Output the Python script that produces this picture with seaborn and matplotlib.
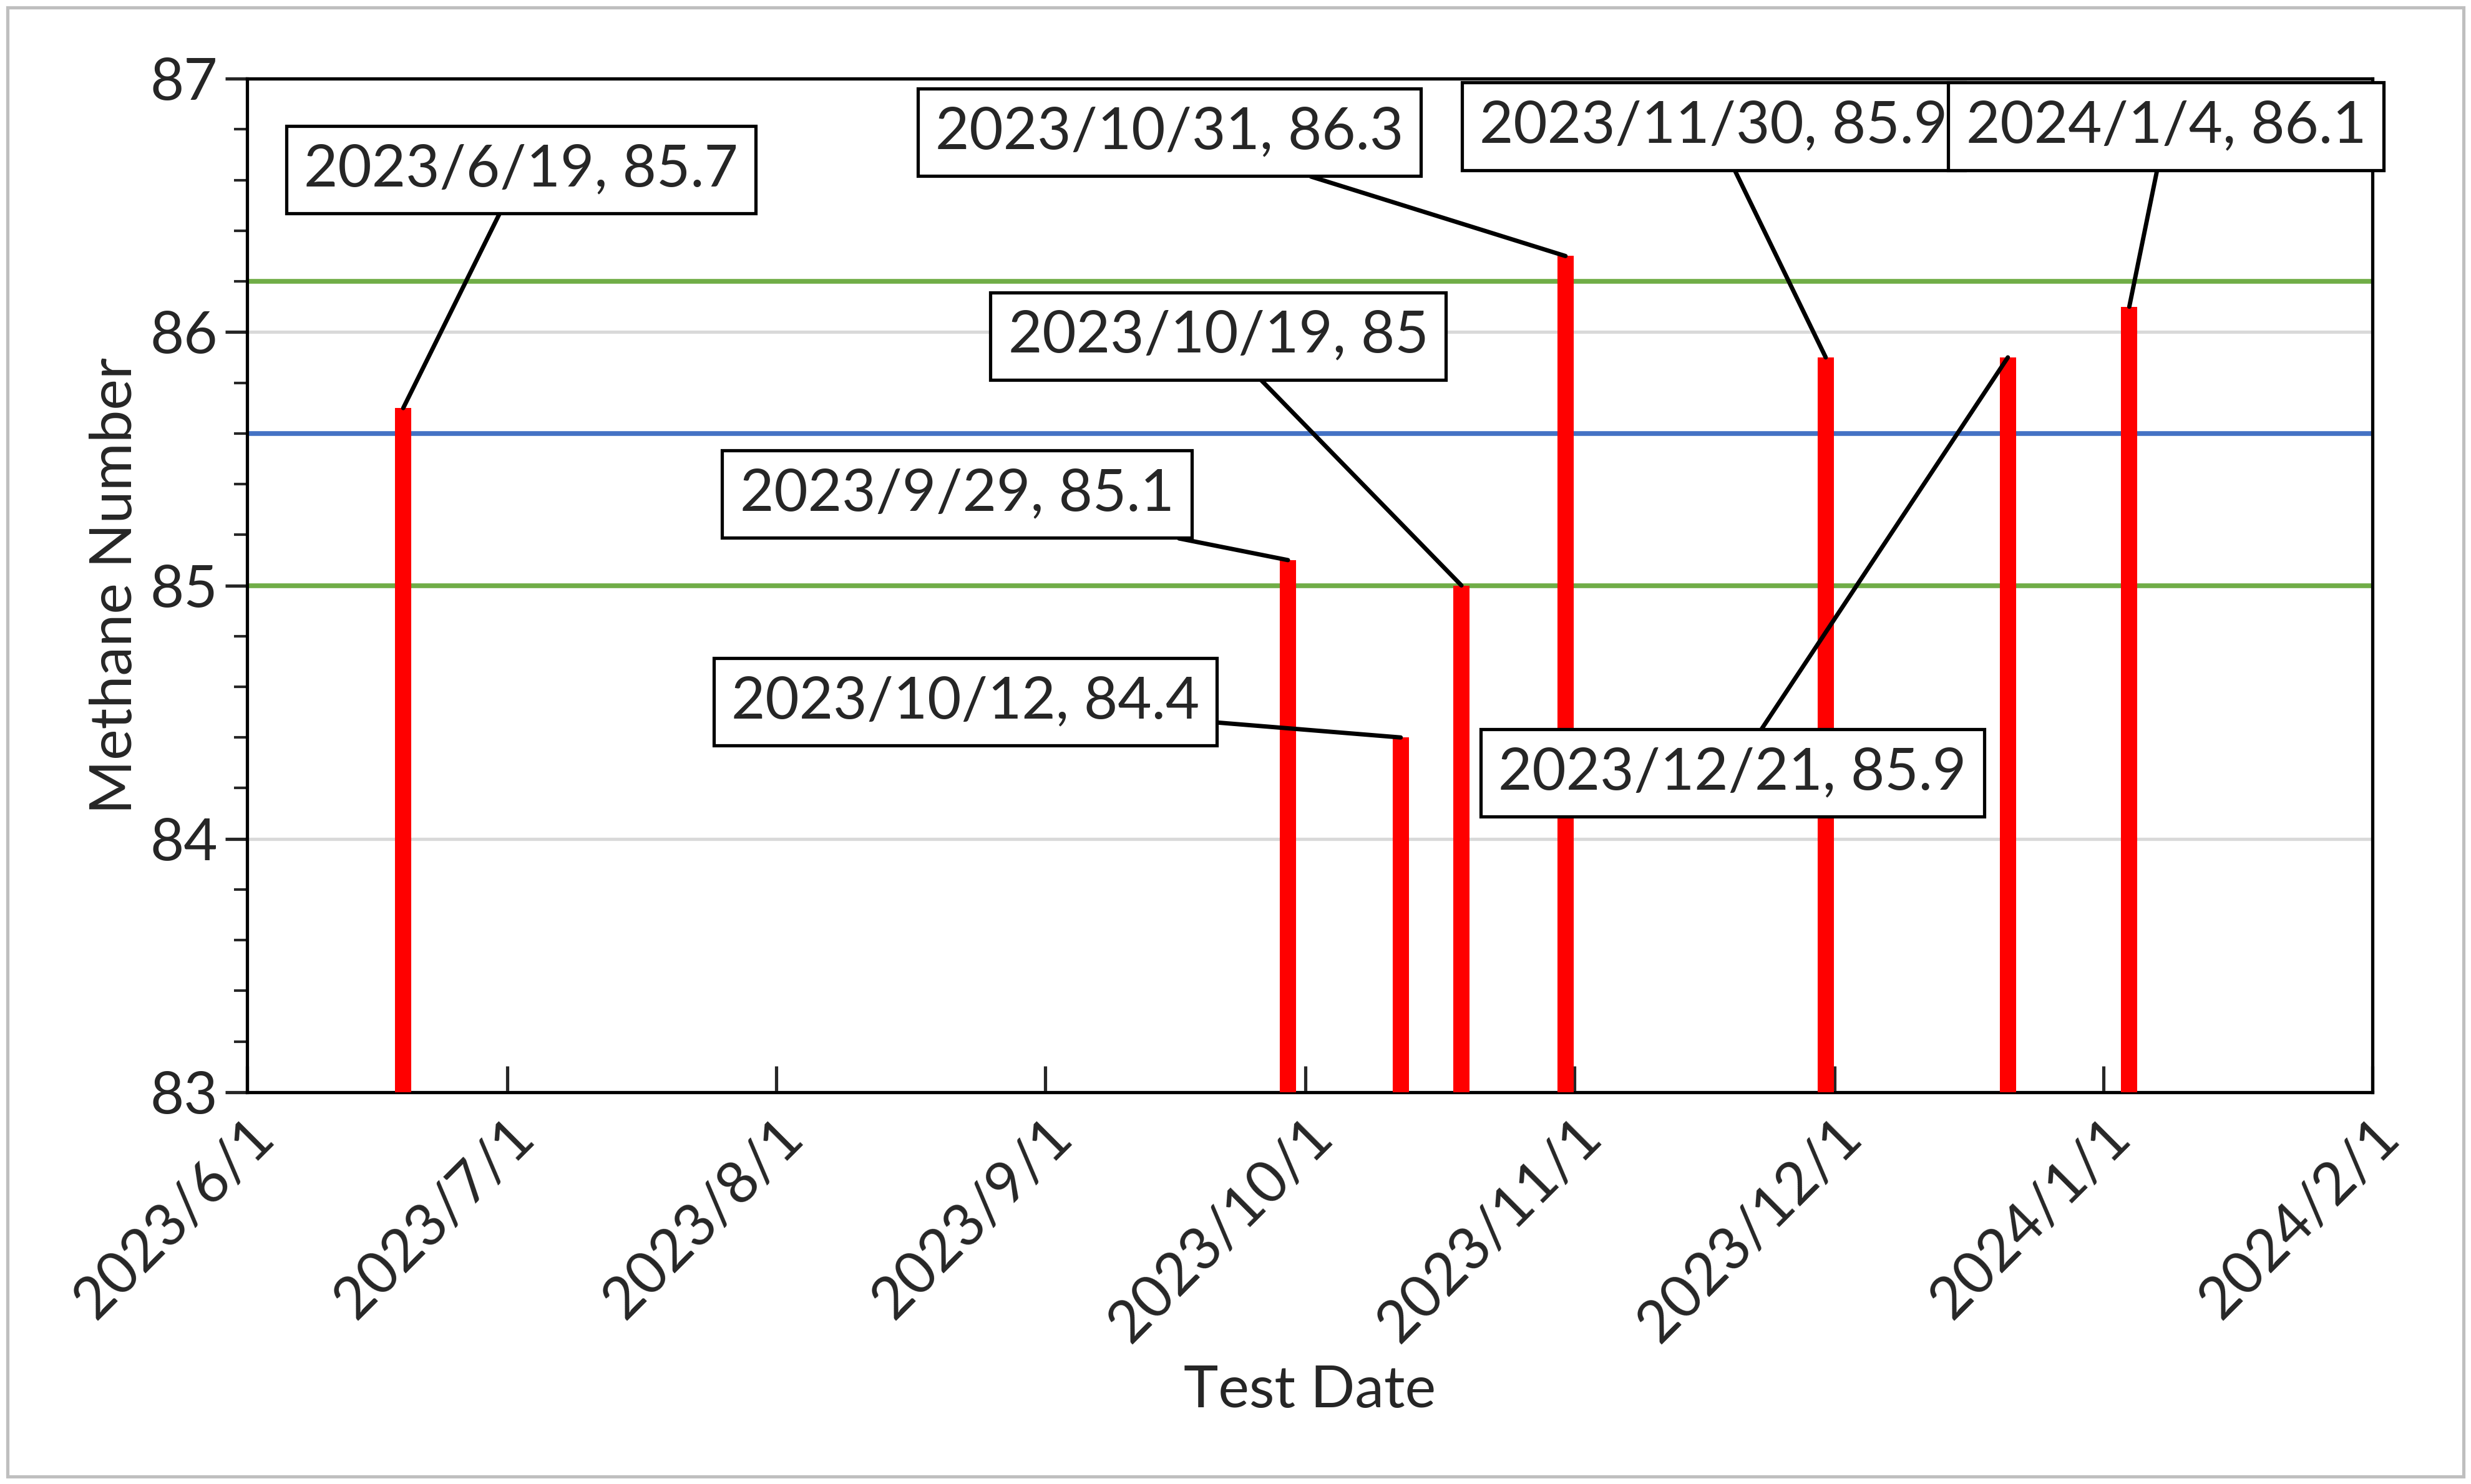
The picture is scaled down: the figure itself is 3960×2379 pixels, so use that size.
import matplotlib
matplotlib.use("Agg")
import matplotlib.pyplot as plt
import matplotlib.dates as mdates
from matplotlib.ticker import MultipleLocator
from matplotlib.patches import Rectangle
import seaborn as sns
import pandas as pd
import numpy as np

dates = ["2023-06-19","2023-09-29","2023-10-12","2023-10-19","2023-10-31","2023-11-30","2023-12-21","2024-01-04"]
values = [85.7, 85.1, 84.4, 85.0, 86.3, 85.9, 85.9, 86.1]
labels = ["2023/6/19, 85.7","2023/9/29, 85.1","2023/10/12, 84.4","2023/10/19, 85",
          "2023/10/31, 86.3","2023/11/30, 85.9","2023/12/21, 85.9","2024/1/4, 86.1"]
label_pos = [(0.129,0.910),(0.334,0.590),(0.338,0.385),(0.457,0.746),
             (0.434,0.947),(0.690,0.953),(0.699,0.315),(0.903,0.953)]
upper_limit = 86.2
mean_line = 85.6
lower_limit = 85.0

sns.set_theme(style="white")
plt.rcParams['font.family'] = ['Lato', 'DejaVu Sans']
FS = 27

fig = plt.figure(figsize=(15.84, 9.516), dpi=250)
ax = fig.add_axes([0.100, 0.264, 0.860, 0.683])

xmin, xmax = pd.Timestamp("2023-06-01"), pd.Timestamp("2024-02-01")
ref = pd.DataFrame({"x": [xmin, xmax]*3,
                    "y": [upper_limit]*2 + [mean_line]*2 + [lower_limit]*2,
                    "g": ["u","u","m","m","l","l"]})
sns.lineplot(data=ref, x="x", y="y", hue="g", palette={"u":"#70AD47","m":"#4472C4","l":"#70AD47"},
             linewidth=2.2, legend=False, ax=ax, zorder=2)

dts = pd.to_datetime(dates)
ax.vlines(dts, 83, values, colors="#FF0000", linewidth=7.5, zorder=3)

ax.set_xlim(xmin, xmax)
ax.set_ylim(83, 87)
ax.yaxis.set_major_locator(MultipleLocator(1))
ax.yaxis.set_minor_locator(MultipleLocator(0.2))
ax.grid(axis="y", which="major", color="#D9D9D9", linewidth=1.5, zorder=0)
ax.xaxis.set_major_locator(mdates.MonthLocator())
ax.xaxis.set_major_formatter(plt.FuncFormatter(lambda v, p: (lambda d: f"{d.year}/{d.month}/{d.day}")(mdates.num2date(v))))
ax.tick_params(axis="x", direction="in", length=12, width=1.5, labelsize=FS, pad=8, bottom=True)
ax.tick_params(axis="y", which="major", direction="out", length=10, width=1.5, labelsize=FS, left=True)
ax.tick_params(axis="y", which="minor", direction="out", length=6, width=1.2, left=True)
for lab in ax.get_xticklabels():
    lab.set_rotation(45); lab.set_ha("right"); lab.set_rotation_mode("anchor")
for s in ax.spines.values():
    s.set_color("black"); s.set_linewidth(1.5)
ax.set_xlabel("Test Date", fontsize=FS, labelpad=6)
ax.set_ylabel("Methane Number", fontsize=FS)

for d, v, lab, (tx, ty) in zip(dts, values, labels, label_pos):
    ax.annotate(lab, xy=(d, v), xycoords="data", xytext=(tx, ty), textcoords="axes fraction",
                fontsize=FS, ha="center", va="center", zorder=5,
                bbox=dict(boxstyle="square,pad=0.3", fc="white", ec="black", lw=1.5),
                arrowprops=dict(arrowstyle="-", color="black", lw=2, shrinkA=0, shrinkB=0))

fig.patches.append(Rectangle((0.003, 0.005), 0.994, 0.99, transform=fig.transFigure,
                             fill=False, ec="#BFBFBF", lw=1.5))
fig.savefig("out.png", dpi=250, facecolor="white")
